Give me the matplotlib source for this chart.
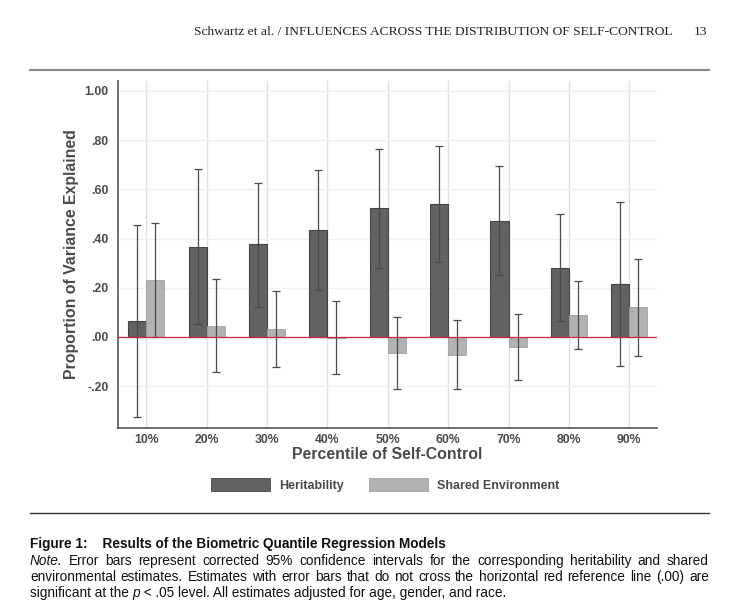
import numpy as np
import matplotlib
matplotlib.use('Agg')
import matplotlib.pyplot as plt
from matplotlib.patches import Patch
from matplotlib.lines import Line2D

# data
percentiles = ['10%', '20%', '30%', '40%', '50%', '60%', '70%', '80%', '90%']
herit = [0.066, 0.366, 0.376, 0.435, 0.522, 0.542, 0.472, 0.282, 0.215]
herit_lo = [-0.326, 0.053, 0.122, 0.191, 0.280, 0.305, 0.251, 0.065, -0.120]
herit_hi = [0.454, 0.681, 0.626, 0.678, 0.762, 0.774, 0.693, 0.499, 0.547]
shared = [0.232, 0.046, 0.034, -0.003, -0.065, -0.072, -0.041, 0.091, 0.122]
shared_lo = [0.000, -0.143, -0.122, -0.150, -0.211, -0.211, -0.176, -0.047, -0.077]
shared_hi = [0.462, 0.235, 0.186, 0.146, 0.081, 0.070, 0.093, 0.227, 0.318]
yticks = [-0.2, 0.0, 0.2, 0.4, 0.6, 0.8, 1.0]
ytick_labels = ['-.20', '.00', '.20', '.40', '.60', '.80', '1.00']

W, H = 736, 610
plt.rcParams['font.family'] = ['Liberation Sans', 'DejaVu Sans']
fig = plt.figure(figsize=(W / 100, H / 100), dpi=100)

def px(x0, y0, x1, y1):
    return [x0 / W, 1 - y1 / H, (x1 - x0) / W, (y1 - y0) / H]

ax = fig.add_axes(px(118, 81, 657, 428))
x = np.arange(1, 10)
bw = 0.3
hcol = '#626262'
scol = '#b2b2b2'
ecol = '#4a4a4a'

ax.bar(x - bw / 2, herit, bw, color=hcol, edgecolor='#454545', linewidth=0.8, zorder=3)
ax.bar(x + bw / 2, shared, bw, color=scol, edgecolor='#a0a0a0', linewidth=0.6, zorder=3)
herr = [np.array(herit) - np.array(herit_lo), np.array(herit_hi) - np.array(herit)]
serr = [np.array(shared) - np.array(shared_lo), np.array(shared_hi) - np.array(shared)]
ax.errorbar(x - bw / 2, herit, yerr=herr, fmt='none', ecolor=ecol, elinewidth=0.9, capsize=3, capthick=0.9, zorder=4)
ax.errorbar(x + bw / 2, shared, yerr=serr, fmt='none', ecolor=ecol, elinewidth=0.9, capsize=3, capthick=0.9, zorder=4)
ax.axhline(0, color='#c8283c', linewidth=0.9, zorder=5)

ax.set_xlim(0.53, 9.46)
ax.set_ylim(-0.37, 1.04)
ax.set_xticks(x)
ax.set_xticklabels(percentiles)
ax.set_yticks(yticks)
ax.set_yticklabels(ytick_labels)
for v in x:
    ax.axvline(v, color='#dde1e6', linewidth=1.0, zorder=1)
for v in yticks:
    ax.axhline(v, color='#eef1f3', linewidth=1.0, zorder=1)
ax.tick_params(length=0, labelsize=8.8, labelcolor='#4a4a4a')
ax.tick_params(axis='y', pad=7)
ax.tick_params(axis='x', pad=4)
for lab in ax.get_xticklabels() + ax.get_yticklabels():
    lab.set_fontweight('bold')
for s in ['top', 'right']:
    ax.spines[s].set_visible(False)
for s in ['left', 'bottom']:
    ax.spines[s].set_color('#555555')
    ax.spines[s].set_linewidth(1.2)
ax.set_xlabel('Percentile of Self-Control', fontsize=11.4, fontweight='bold', color='#4a4a4a', labelpad=1)
ax.set_ylabel('Proportion of Variance Explained', fontsize=11.4, fontweight='bold', color='#4a4a4a', labelpad=4)

# legend
handles = [Patch(facecolor=hcol, edgecolor='#454545', linewidth=0.6),
           Patch(facecolor=scol, edgecolor='#a0a0a0', linewidth=0.6)]
leg = fig.legend(handles, ['Heritability', 'Shared Environment'], loc='center',
                 bbox_to_anchor=(385 / W, 1 - 485 / H), ncol=2, frameon=False,
                 handlelength=4.7, handleheight=1.15, handletextpad=0.75, columnspacing=2.0,
                 prop={'weight': 'bold', 'size': 9})
for t in leg.get_texts():
    t.set_color('#4a4a4a')

# page header
fig.text(673 / W, 1 - 32 / H, 'Schwartz et al. / INFLUENCES ACROSS THE DISTRIBUTION OF SELF-CONTROL',
         ha='right', va='center', fontsize=9.7, family='Liberation Serif', color='#222222')
fig.text(707 / W, 1 - 32 / H, '13', ha='right', va='center', fontsize=9.7, family='Liberation Serif', color='#222222')
fig.add_artist(Line2D([30 / W, 709 / W], [1 - 70 / H, 1 - 70 / H], color='#888888', linewidth=1.5))
fig.add_artist(Line2D([30 / W, 709 / W], [1 - 512.5 / H, 1 - 512.5 / H], color='#333333', linewidth=1.0))

# caption
fs = 9.8
fig.text(30 / W, 1 - 544 / H, 'Figure 1:    Results of the Biometric Quantile Regression Models',
         ha='left', va='center', fontsize=fs, fontweight='bold', color='#111111')

note_lines = [
    [('Note.', 'italic'), ('Error', 'normal'), ('bars', 'normal'), ('represent', 'normal'), ('corrected', 'normal'),
     ('95%', 'normal'), ('confidence', 'normal'), ('intervals', 'normal'), ('for', 'normal'), ('the', 'normal'),
     ('corresponding', 'normal'), ('heritability', 'normal'), ('and', 'normal'), ('shared', 'normal')],
    [('environmental', 'normal'), ('estimates.', 'normal'), ('Estimates', 'normal'), ('with', 'normal'),
     ('error', 'normal'), ('bars', 'normal'), ('that', 'normal'), ('do', 'normal'), ('not', 'normal'),
     ('cross', 'normal'), ('the', 'normal'), ('horizontal', 'normal'), ('red', 'normal'), ('reference', 'normal'),
     ('line', 'normal'), ('(.00)', 'normal'), ('are', 'normal')],
]
renderer = fig.canvas.get_renderer()
for i, words in enumerate(note_lines):
    ypos = 1 - (560.7 + 16 * i) / H
    texts = [fig.text(0, ypos, w, ha='left', va='center', fontsize=fs, style=st, color='#111111') for w, st in words]
    widths = [t.get_window_extent(renderer).width for t in texts]
    gap = (679 - sum(widths)) / (len(words) - 1)
    xp = 30
    for t, wd in zip(texts, widths):
        t.set_x(xp / W)
        xp += wd + gap

last = [('significant at the ', 'normal'), ('p', 'italic'),
        (' < .05 level. All estimates adjusted for age, gender, and race.', 'normal')]
xp = 30
for w, st in last:
    t = fig.text(xp / W, 1 - 592.7 / H, w, ha='left', va='center', fontsize=fs, style=st, color='#111111')
    xp += t.get_window_extent(renderer).width

fig.savefig('out.png', dpi=100)
